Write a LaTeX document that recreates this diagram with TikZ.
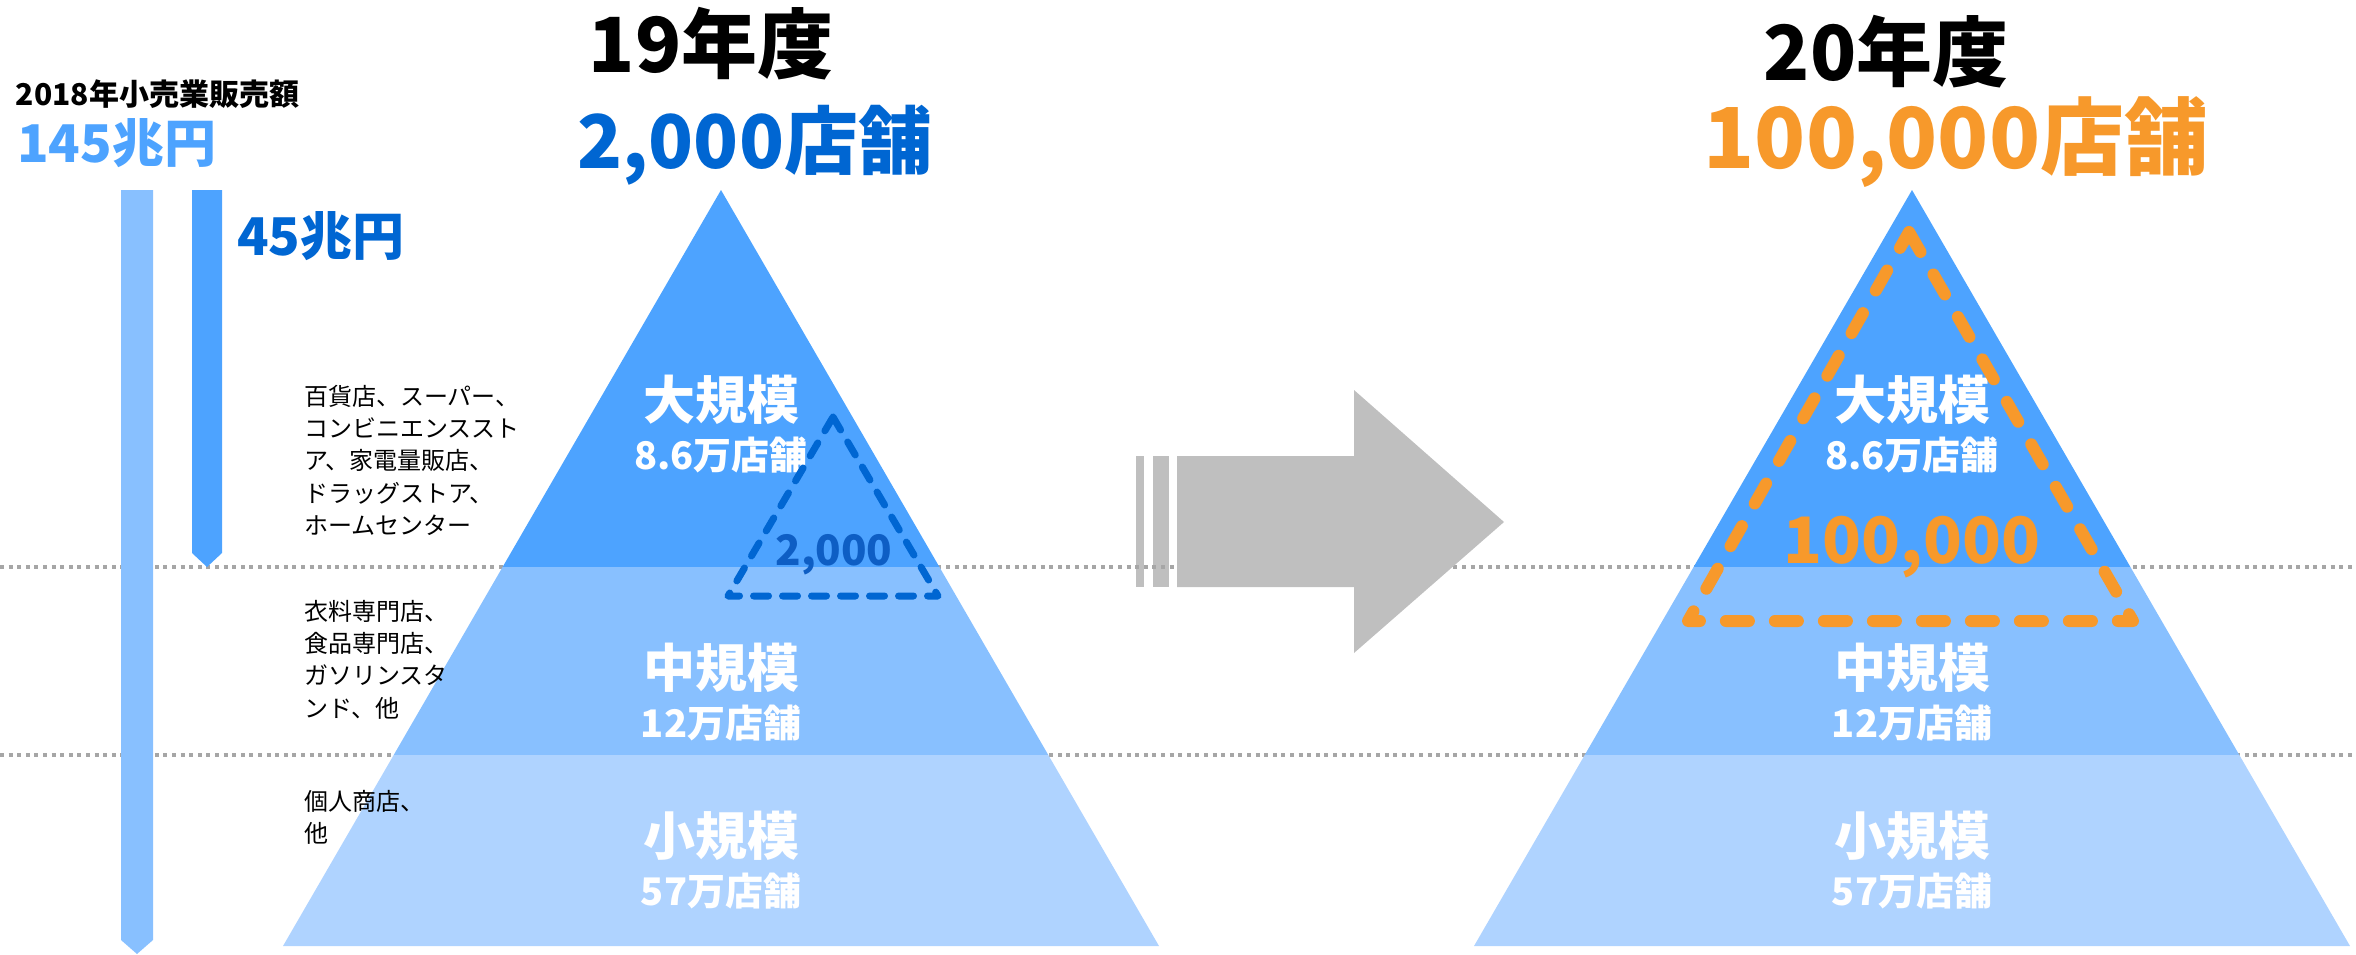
\documentclass[tikz,border=0pt]{standalone}
\usepackage{fontspec}
\setmainfont{Noto Sans CJK JP}
\usetikzlibrary{positioning}
\definecolor{topblue}{RGB}{77,163,255}
\definecolor{midblue}{RGB}{136,192,255}
\definecolor{lowblue}{RGB}{175,211,255}
\definecolor{deepblue}{RGB}{0,102,210}
\definecolor{inkblue}{RGB}{14,94,196}
\definecolor{shoporange}{RGB}{247,153,43}
\definecolor{arrowgray}{RGB}{191,191,191}
\definecolor{dotgray}{RGB}{166,166,166}
\tikzset{
    txt/.style={inner sep=0pt, outer sep=0pt},
    sizelabel/.style={txt, white, font=\bfseries\fontsize{52}{60}\selectfont},% 大規模 etc.
    countlabel/.style={txt, white, font=\bfseries\fontsize{38}{44}\selectfont},
    note/.style={txt, black, align=left, font=\fontsize{24}{32.3}\selectfont},
    yearlabel/.style={txt, black, font=\bfseries\fontsize{76}{84}\selectfont},
    dotline/.style={draw=dotgray, line width=4pt, dash pattern=on 4pt off 4.6pt},
    dashtri/.style={line cap=round, line join=round}
    }
\begin{document}
\begin{tikzpicture}[x=1pt,y=-1pt]
      \useasboundingbox (0,0) rectangle (2356,954);
      % arrow tail stripes
      \fill[arrowgray] (1136,456) rectangle (1144,587);
      \fill[arrowgray] (1153,456) rectangle (1169,587);
      % separators
      \draw[dotline] (0,567) -- (2356,567);
      \draw[dotline] (0,755) -- (2356,755);
      % sales bars
      \fill[midblue] (121,190) -- (153,190) -- (153,940) -- (137,954) -- (121,940) -- cycle;
      \fill[topblue] (192,190) -- (222,190) -- (222,553) -- (207,567) -- (192,553) -- cycle;
      \node[txt, anchor=base west, font=\bfseries\fontsize{30}{36}\selectfont] (salestitle) at (16,105) {2018年小売業販売額};
      \node[txt, anchor=base west, topblue, font=\bfseries\fontsize{52}{60}\selectfont] (total) at (17,162) {145兆円};
      \node[txt, anchor=base west, deepblue, font=\bfseries\fontsize{52}{60}\selectfont] (part) at (237,255) {45兆円};
      % pyramids
      \foreach \cx/\i in {721/1,1912/2} {
        \fill[topblue] (\cx,190) -- (\cx+218.4,567) -- (\cx-218.4,567) -- cycle;
        \fill[midblue] (\cx-218.4,567) -- (\cx+218.4,567) -- (\cx+327.3,755) -- (\cx-327.3,755) -- cycle;
        \fill[lowblue] (\cx-327.3,755) -- (\cx+327.3,755) -- (\cx+438,946) -- (\cx-438,946) -- cycle;
        \node[sizelabel, anchor=base] (large\i) at (\cx,419) {大規模};
        \node[countlabel, anchor=base] (largecnt\i) at (\cx,469) {8.6万店舗};
        \node[sizelabel, anchor=base] (medium\i) at (\cx,687) {中規模};
        \node[countlabel, anchor=base] (mediumcnt\i) at (\cx,737) {12万店舗};
        \node[sizelabel, anchor=base] (small\i) at (\cx,855) {小規模};
        \node[countlabel, anchor=base] (smallcnt\i) at (\cx,905) {57万店舗};
      }
      % arrow
      \fill[arrowgray] (1177,456) -- (1354,456) -- (1354,390) -- (1504,522) -- (1354,653) -- (1354,587) -- (1177,587) -- cycle;
      % store counts
      \draw[dashtri, deepblue, line width=7pt, dash pattern=on 15pt off 14pt] (833,417) -- (938,596) -- (728,596) -- cycle;
      \node[txt, anchor=base, inkblue, font=\bfseries\fontsize{42}{48}\selectfont] (count19) at (834,565) {2,000};
      \draw[dashtri, shoporange, line width=12pt, dash pattern=on 23pt off 26pt] (1909,232) -- (2133,621) -- (1688,621) -- cycle;
      \node[txt, anchor=base, shoporange, font=\bfseries\fontsize{64}{72}\selectfont] (count20) at (1912,563) {100,000};
      % headings
      \node[yearlabel, anchor=base] (year19) at (711,72) {19年度};
      \node[txt, anchor=base, deepblue, font=\bfseries\fontsize{74}{84}\selectfont] (shops19) at (755,168) {2,000店舗};
      \node[yearlabel, anchor=base] (year20) at (1886,80) {20年度};
      \node[txt, anchor=base, shoporange, font=\bfseries\fontsize{84}{94}\selectfont] (shops20) at (1956,168) {100,000店舗};
      % notes
      \node[note, anchor=north west] (notelarge) at (304,385) {百貨店、スーパー、\\コンビニエンススト\\ア、家電量販店、\\ドラッグストア、\\ホームセンター};
      \node[note, anchor=north west] (notemedium) at (304,600) {衣料専門店、\\食品専門店、\\ガソリンスタ\\ンド、他};
      \node[note, anchor=north west] (notesmall) at (304,790) {個人商店、\\他};
\end{tikzpicture}
\end{document}
